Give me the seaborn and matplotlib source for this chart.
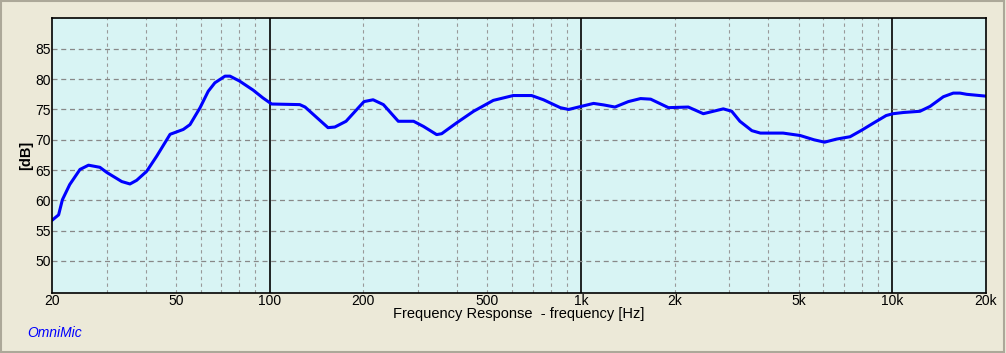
import numpy as np
import pandas as pd
import matplotlib
matplotlib.use("Agg")
from matplotlib import pyplot as plt
from matplotlib.patches import Rectangle
import seaborn as sns

# frequency response (Hz, dB)
freq = [20, 21.0, 21.6, 22.8, 24.6, 26.2, 28.5, 30, 33.5, 35.6, 37.4, 40.3, 43.4,
        47.9, 52.8, 55.5, 59.8, 63.5, 66.7, 71.9, 74.6, 80, 88.5, 95.2, 101.5,
        125, 130, 154, 162, 176, 201, 215, 232, 259, 290, 312, 344, 357, 399,
        452, 523, 606, 694, 758, 858, 913, 1000, 1098, 1183, 1286, 1420, 1554,
        1675, 1910, 2212, 2472, 2866, 3050, 3240, 3540, 3770, 4460, 5060, 5600,
        6060, 6610, 7320, 7990, 8730, 9560, 10050, 10860, 12270, 13220, 14590,
        15700, 16500, 17350, 20000]
level = [56.7, 57.6, 60.1, 62.6, 65.1, 65.8, 65.45, 64.6, 63.1, 62.7, 63.3, 64.8, 67.3,
         70.9, 71.7, 72.5, 75.3, 78.0, 79.4, 80.5, 80.5, 79.7, 78.2, 76.9, 75.9,
         75.8, 75.4, 72.0, 72.1, 73.05, 76.3, 76.6, 75.8, 73.05, 73.05, 72.2, 70.85, 71.0, 72.8,
         74.7, 76.5, 77.3, 77.3, 76.6, 75.3, 75.0, 75.5, 76.0, 75.75, 75.4, 76.3, 76.8,
         76.7, 75.3, 75.4, 74.3, 75.1, 74.7, 73.05, 71.5, 71.1, 71.1, 70.7, 70.0,
         69.6, 70.1, 70.5, 71.6, 72.8, 74.0, 74.3, 74.5, 74.7, 75.5, 77.1,
         77.7, 77.7, 77.5, 77.2]

label_freqs = [20, 50, 100, 200, 500, 1000, 2000, 5000, 10000, 20000]
label_texts = ["20", "50", "100", "200", "500", "1k", "2k", "5k", "10k", "20k"]
decades = [100, 1000, 10000]
db_ticks = [50, 55, 60, 65, 70, 75, 80, 85]

df = pd.DataFrame({"freq": freq, "level": level})

sns.set_theme(style="white")
plt.rcParams["font.family"] = ["Liberation Sans", "DejaVu Sans"]

fig = plt.figure(figsize=(10.06, 3.53), dpi=100, facecolor="#ECE9D8")
fig.patches.append(Rectangle((0.001, 0.003), 0.997, 0.994, transform=fig.transFigure,
                             fill=False, edgecolor="#ACA899", linewidth=1.5))
ax = fig.add_axes([52 / 1006, 60 / 353, 934 / 1006, 275 / 353])
ax.set_facecolor("#D8F4F4")

sns.lineplot(data=df, x="freq", y="level", ax=ax, color="#0000FF", linewidth=2.2,
             solid_joinstyle="round", solid_capstyle="round")
ax.set_xscale("log")
ax.set_xlim(20, 20000)
ax.set_ylim(44.7, 90.1)

# minor grid (dashed) and decade lines (solid)
minors = [m * d for d in [10, 100, 1000, 10000] for m in range(2, 10) if 20 < m * d < 20000]
for f in minors:
    ax.axvline(f, color="#999999", linestyle=(0, (3, 3)), linewidth=0.8, zorder=1)
for f in decades:
    ax.axvline(f, color="black", linewidth=1.2, zorder=1)
for y in db_ticks:
    ax.axhline(y, color="#888888", linestyle=(0, (4, 3)), linewidth=0.9, zorder=1)

ax.set_xticks(label_freqs)
ax.set_xticklabels(label_texts)
ax.minorticks_off()
ax.set_yticks(db_ticks)
ax.tick_params(length=0, labelsize=10, pad=1, colors="black")
for s in ax.spines.values():
    s.set_color("black")
    s.set_linewidth(1.2)

ax.set_xlabel("Frequency Response  - frequency [Hz]", fontsize=10.5, color="black")
ax.xaxis.set_label_coords(0.5, -0.05)
ax.set_ylabel("[dB]", fontsize=10.5, fontweight="bold", color="black")
ax.yaxis.set_label_coords(-0.0205, 0.5)

fig.text(27 / 1006, 1 - 333 / 353, "OmniMic", color="#0000FF", fontsize=10,
         style="italic", va="center")

fig.savefig("out.png", dpi=100, facecolor=fig.get_facecolor())
